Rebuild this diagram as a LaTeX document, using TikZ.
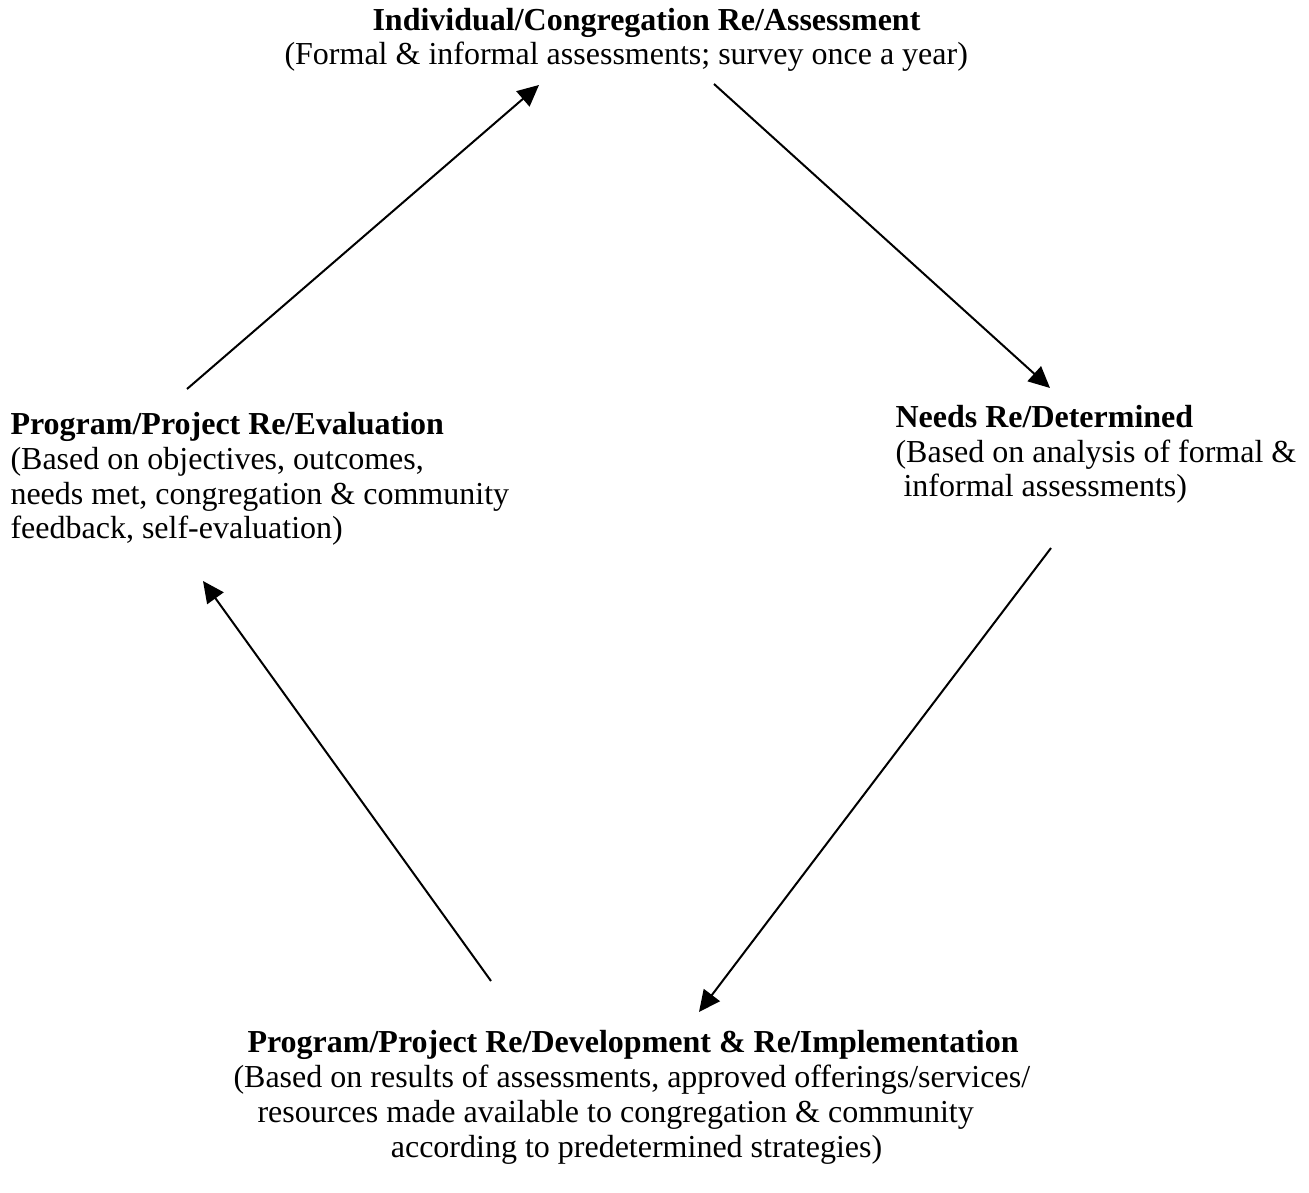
\documentclass[tikz,border=0pt]{standalone}
\usepackage{fontspec}
\setmainfont{Liberation Serif}
\usetikzlibrary{arrows.meta}

\tikzset{
  block/.style={anchor=base west,align=left,inner sep=0pt,
    font=\fontsize{12}{13.1}\selectfont},
  cycle/.style={line width=0.75pt,-{Triangle[length=8pt,width=7.5pt]}}
}

\begin{document}
\begin{tikzpicture}[x=0.375pt,y=-0.375pt]
\useasboundingbox (0,0) rectangle (1309,1193);
\node[block] (assess) at (284,65) {\hspace*{33pt}\textbf{Individual/Congregation Re/Assessment}\\
(Formal \& informal assessments; survey once a year)};
\node[block] (needs) at (895,497) {\textbf{Needs Re/Determined}\\
(Based on analysis of formal \&\\
\hspace*{3pt}informal assessments)};
\node[block] (develop) at (233,1157) {\hspace*{5.25pt}\textbf{Program/Project Re/Development \& Re/Implementation}\\
(Based on results of assessments, approved offerings/services/\\
\hspace*{9pt}resources made available to congregation \& community\\
\hspace*{59pt}according to predetermined strategies)};
\node[block] (evaluate) at (10,539) {\textbf{Program/Project Re/Evaluation}\\
(Based on objectives, outcomes,\\
needs met, congregation \& community\\
feedback, self-evaluation)};
\coordinate (evalOut) at (187,389);
\coordinate (assessIn) at (539,85);
\coordinate (assessOut) at (714,84);
\coordinate (needsIn) at (1050,388);
\coordinate (needsOut) at (1051,548);
\coordinate (developIn) at (699,1012);
\coordinate (developOut) at (491,981);
\coordinate (evalIn) at (203,581);
\draw[cycle] (evalOut) -- (assessIn);
\draw[cycle] (assessOut) -- (needsIn);
\draw[cycle] (needsOut) -- (developIn);
\draw[cycle] (developOut) -- (evalIn);
\end{tikzpicture}
\end{document}
